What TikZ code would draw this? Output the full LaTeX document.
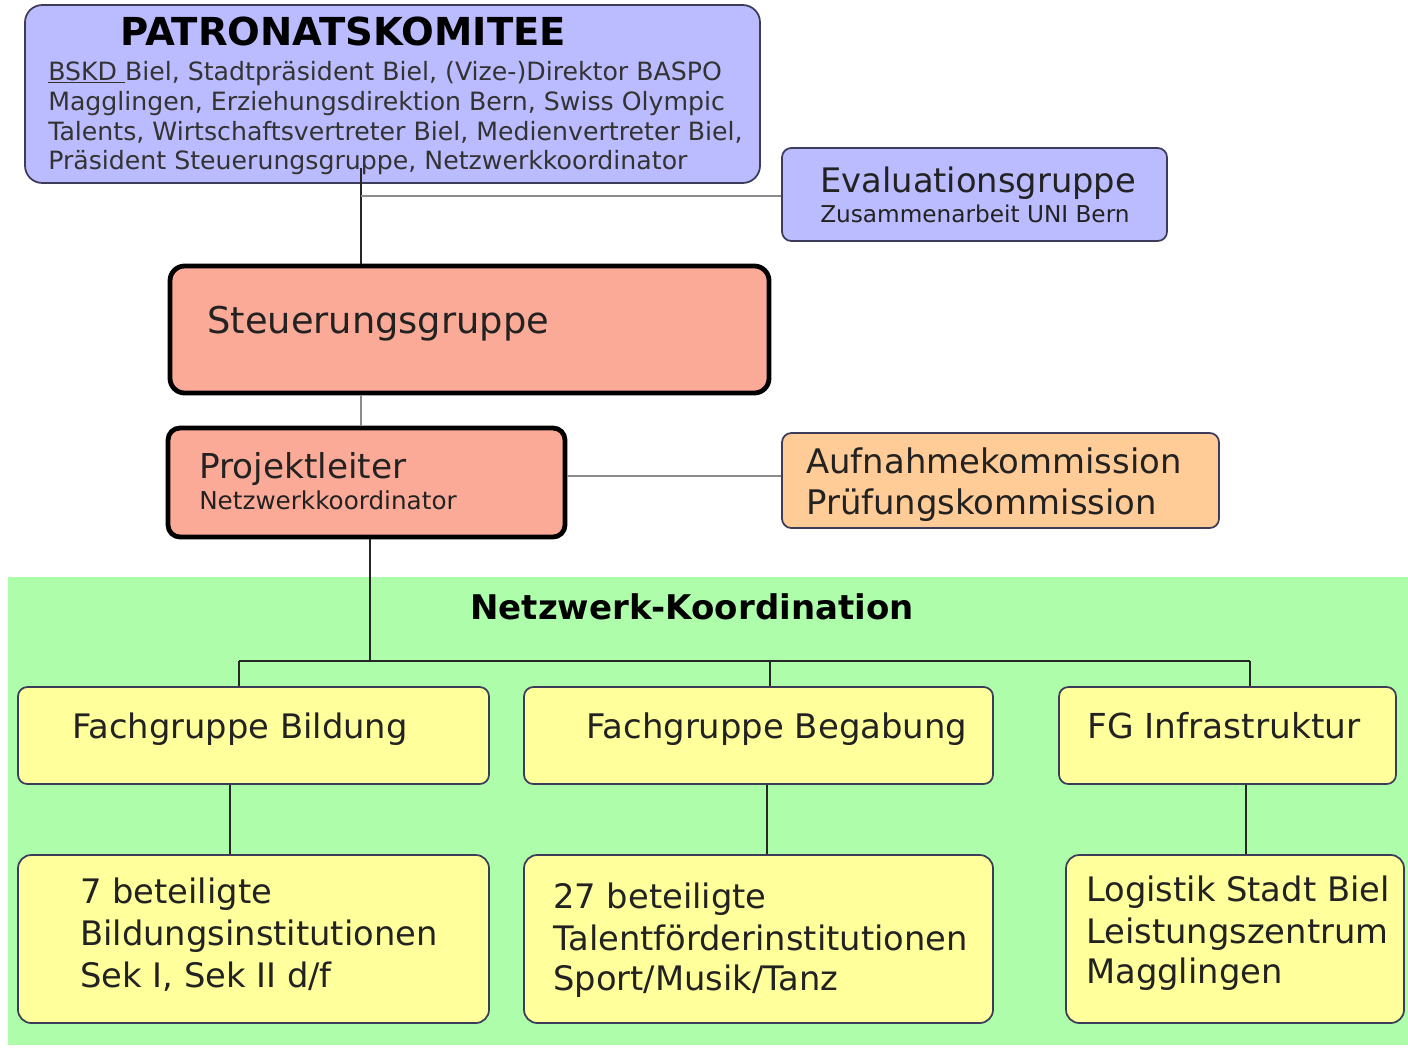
\documentclass[tikz,border=0pt]{standalone}
\usepackage{fontspec}
\setmainfont{DejaVu Sans}
\usetikzlibrary{fit}
\definecolor{lav}{HTML}{BBBBFF}
\definecolor{lavline}{HTML}{3C3C5A}
\definecolor{salmon}{HTML}{FCAA98}
\definecolor{orng}{HTML}{FFCB96}
\definecolor{grn}{HTML}{ADFDAB}
\definecolor{yel}{HTML}{FFFF9B}
\definecolor{conngray}{HTML}{8C8C8C}
\definecolor{txtc}{HTML}{222222}
\newcommand\myfs[2]{\fontsize{#1pt}{#2pt}\selectfont}
\begin{document}
\begin{tikzpicture}[x=0.75pt,y=-0.75pt,
  box/.style={draw=lavline,line width=1.3pt,inner sep=0pt,rounded corners=7pt},
  thickbox/.style={draw=black,line width=3.6pt,inner sep=0pt,rounded corners=9pt,fill=salmon},
  txt/.style={inner sep=0pt,anchor=base west,text=txtc},
  conn/.style={draw=black!85,line width=1.3pt},
  gconn/.style={draw=conngray,line width=1.3pt}]
\useasboundingbox (0,0) rectangle (1408,1047);
\fill[white] (0,0) rectangle (1408,1047);
% green region
\node[fill=grn,inner sep=0pt,fit={(8,577) (1408,1045)}] (green) {};
% boxes
\node[box,fill=lav,rounded corners=13pt,fit={(25,5) (760,183)}] (pat) {};
\node[box,fill=lav,fit={(782,148) (1167,241)}] (eval) {};
\node[thickbox,rounded corners=11pt,fit={(170,266) (769,393)}] (steu) {};
\node[thickbox,fit={(168,428) (565,537)}] (proj) {};
\node[box,fill=orng,fit={(782,433) (1219,528)}] (aufn) {};
\node[box,fill=yel,fit={(18,687) (489,784)}] (fb) {};
\node[box,fill=yel,fit={(524,687) (993,784)}] (fbe) {};
\node[box,fill=yel,fit={(1059,687) (1396,784)}] (fi) {};
\node[box,fill=yel,rounded corners=10pt,fit={(18,855) (489,1023)}] (lb) {};
\node[box,fill=yel,rounded corners=10pt,fit={(524,855) (993,1023)}] (lbe) {};
\node[box,fill=yel,rounded corners=10pt,fit={(1066,855) (1404,1023)}] (li) {};
% connector coordinates
\coordinate (cP) at (361,168);
\coordinate (cH) at (361,196);
\coordinate (xA) at (361,400);
\coordinate (yB) at (600,476);
\coordinate (xC) at (370,600);
\coordinate (b1) at (239,661);
\coordinate (b2) at (770,661);
\coordinate (b3) at (1250,661);
\coordinate (d1) at (230,820);
\coordinate (d2) at (767,820);
\coordinate (d3) at (1246,820);
% connectors
\draw[conn] (cP) -- (steu.north -| cP);
\draw[gconn] (cH) -- (cH -| eval.west);
\draw[gconn] (steu.south -| xA) -- (proj.north -| xA);
\draw[gconn] (proj.east |- yB) -- (aufn.west |- yB);
\draw[conn] (proj.south -| xC) -- (xC |- b1);
\draw[conn] (b1) -- (b3);
\draw[conn] (b1) -- (fb.north -| b1);
\draw[conn] (b2) -- (fbe.north -| b2);
\draw[conn] (b3) -- (fi.north -| b3);
\draw[conn] (fb.south -| d1) -- (lb.north -| d1);
\draw[conn] (fbe.south -| d2) -- (lbe.north -| d2);
\draw[conn] (fi.south -| d3) -- (li.north -| d3);
% texts
\node[txt,text=black] (patT) at (120,45) {\myfs{28.9}{30}\bfseries PATRONATSKOMITEE};
\node[txt,text=black!80] (pat1) at (48,80) {\myfs{18.9}{20}\underline{BSKD\ }Biel, Stadtpräsident Biel, (Vize-)Direktor BASPO};
\node[txt,text=black!80] (pat2) at (48,110) {\myfs{18.9}{20}Magglingen, Erziehungsdirektion Bern, Swiss Olympic};
\node[txt,text=black!80] (pat3) at (48,140) {\myfs{18.9}{20}Talents, Wirtschaftsvertreter Biel, Medienvertreter Biel,};
\node[txt,text=black!80] (pat4) at (48,169) {\myfs{18.9}{20}Präsident Steuerungsgruppe, Netzwerkkoordinator};
\node[txt] (evalT) at (820,192) {\myfs{25.3}{30}Evaluationsgruppe};
\node[txt] (evalS) at (820,222) {\myfs{17.4}{20}Zusammenarbeit UNI Bern};
\node[txt] (steuT) at (207,333) {\myfs{27.6}{30}Steuerungsgruppe};
\node[txt] (projT) at (199,478) {\myfs{25.7}{30}Projektleiter};
\node[txt] (projS) at (199,509) {\myfs{18.5}{20}Netzwerkkoordinator};
\node[txt] (aufn1) at (806,473) {\myfs{25.4}{30}Aufnahmekommission};
\node[txt] (aufn2) at (806,514) {\myfs{25.4}{30}Prüfungskommission};
\node[txt,text=black] (netz) at (470,619) {\myfs{25.5}{30}\bfseries Netzwerk-Koordination};
\node[txt] (fbT) at (72,738) {\myfs{25.3}{30}Fachgruppe Bildung};
\node[txt] (fbeT) at (586,738) {\myfs{25.4}{30}Fachgruppe Begabung};
\node[txt] (fiT) at (1087,738) {\myfs{25.8}{30}FG Infrastruktur};
\node[txt] (lb1) at (80,903) {\myfs{25.3}{30}7 beteiligte};
\node[txt] (lb2) at (80,945) {\myfs{25.3}{30}Bildungsinstitutionen};
\node[txt] (lb3) at (80,987) {\myfs{25.3}{30}Sek I, Sek II d/f};
\node[txt] (lbe1) at (553,908) {\myfs{25.3}{30}27 beteiligte};
\node[txt] (lbe2) at (553,950) {\myfs{25.3}{30}Talentförderinstitutionen};
\node[txt] (lbe3) at (553,990) {\myfs{25.3}{30}Sport/Musik/Tanz};
\node[txt] (li1) at (1086,901) {\myfs{25.3}{30}Logistik Stadt Biel};
\node[txt] (li2) at (1086,943) {\myfs{25.3}{30}Leistungszentrum};
\node[txt] (li3) at (1086,983) {\myfs{25.3}{30}Magglingen};
\end{tikzpicture}
\end{document}
